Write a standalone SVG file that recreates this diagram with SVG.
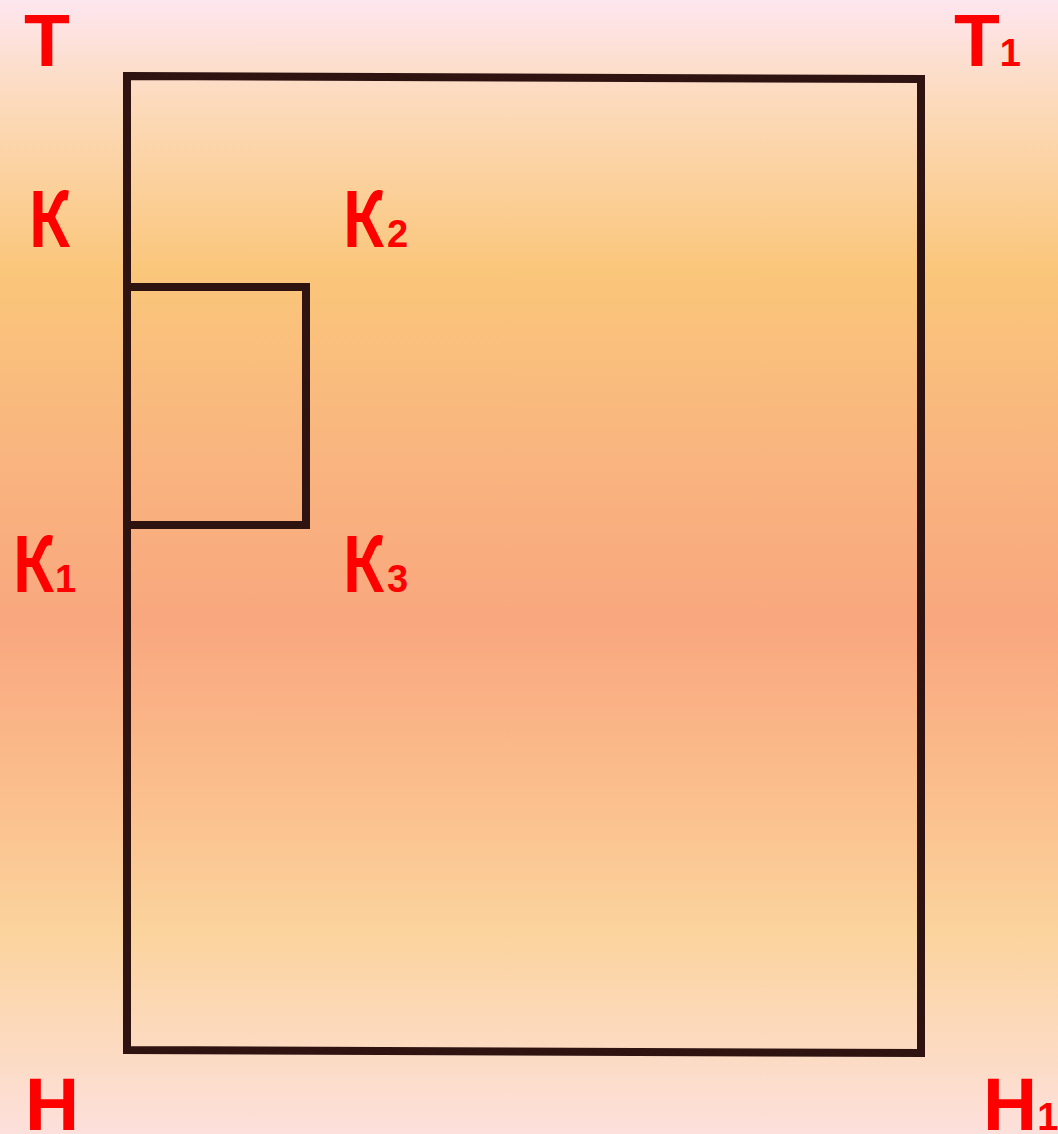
<svg xmlns="http://www.w3.org/2000/svg" width="1058" height="1134" viewBox="0 0 1058 1134">
<defs>
<linearGradient id="bg" x1="0" y1="0" x2="0" y2="1">
<stop offset="0" stop-color="#fee6f0"/>
<stop offset="0.09" stop-color="#fcdabb"/>
<stop offset="0.24" stop-color="#fac67a"/>
<stop offset="0.4" stop-color="#f9b57f"/>
<stop offset="0.55" stop-color="#f9a77e"/>
<stop offset="0.69" stop-color="#fbbd8c"/>
<stop offset="0.82" stop-color="#fbd39c"/>
<stop offset="1" stop-color="#fde0dc"/>
</linearGradient>
<style>
.lbl{font-family:"Liberation Sans",Arial,sans-serif;font-weight:bold;fill:#ff0000;font-size:75px}
.k{font-family:"Noto Sans CJK SC","Liberation Sans",sans-serif;font-weight:bold;fill:#ff0000;font-size:75px}
.sub{font-family:"Liberation Sans",Arial,sans-serif;font-weight:bold;fill:#ff0000;font-size:38px}
.ln{stroke:#2e1311;stroke-width:8;fill:none;stroke-linecap:square}
</style>
</defs>
<rect width="1058" height="1134" fill="url(#bg)"/>
<g id="connectors">
<path class="ln" d="M127,76 L921,79 L921,1053 L127,1050 Z"/>
<path class="ln" d="M127,287 L306,287 L306,525 L127,525"/>
</g>
<g id="T"><text class="lbl" x="24" y="66">Т</text></g>
<g id="T1"><text class="lbl" x="954" y="66">Т<tspan class="sub">1</tspan></text></g>
<g id="K"><text class="k" x="28" y="247" textLength="42" lengthAdjust="spacingAndGlyphs">К</text></g>
<g id="K2"><text class="k" x="342" y="247" textLength="42" lengthAdjust="spacingAndGlyphs">К</text><text class="sub" x="387" y="247">2</text></g>
<g id="K1"><text class="k" x="12" y="592" textLength="42" lengthAdjust="spacingAndGlyphs">К</text><text class="sub" x="55" y="592">1</text></g>
<g id="K3"><text class="k" x="342" y="592" textLength="42" lengthAdjust="spacingAndGlyphs">К</text><text class="sub" x="387" y="592">3</text></g>
<g id="H"><text class="lbl" x="25" y="1130">Н</text></g>
<g id="H1"><text class="lbl" x="983" y="1130">Н<tspan class="sub">1</tspan></text></g>
</svg>
